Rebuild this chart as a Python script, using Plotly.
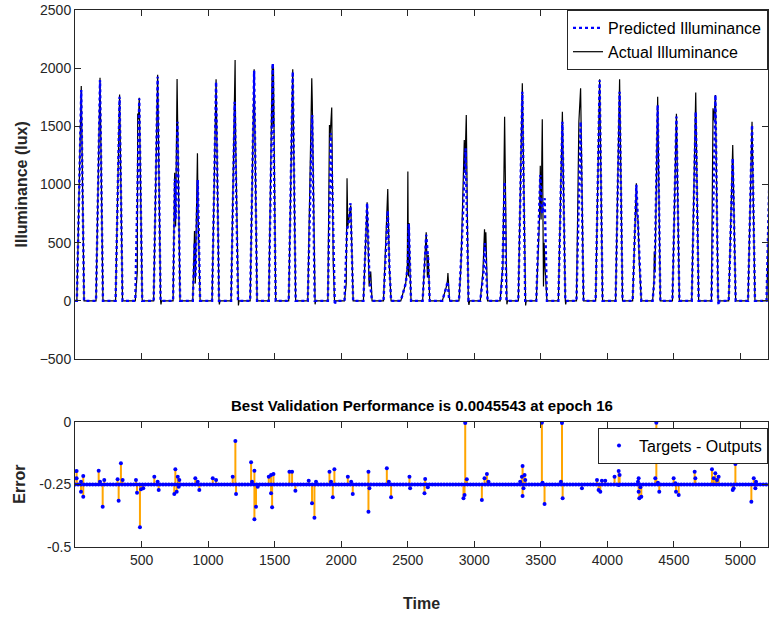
import plotly.graph_objects as go

# ---------------- data ----------------
# Illuminance: vertices (time index, lux) for each daily cycle
actual_days = [
    [(1, 0), (14, 0), (47, 1847), (68, 0)],
    [(158, 0), (188, 1918), (210, 0)],
    [(305, 0), (335, 1773), (357, 0)],
    [(453, 0), (468, 250), (471, 1610), (477, 1560), (483, 1745), (505, 0)],
    [(591, 0), (621, 1944), (643, 0), (646, -30), (650, 0)],
    [(737, 0), (749, 1100), (756, 640), (767, 1907), (772, 1540), (789, 0)],
    [(885, 0), (898, 600), (904, 150), (920, 1269), (925, 750), (940, 0)],
    [(1030, 0), (1060, 1904), (1082, 0), (1085, -30), (1089, 0)],
    [(1173, 0), (1198, 1720), (1203, 2070), (1207, 1380), (1225, 0), (1228, -40), (1232, 0)],
    [(1316, 0), (1346, 1990), (1368, 0)],
    [(1456, 0), (1482, 2020), (1487, 1500), (1491, 2010), (1508, 0)],
    [(1606, 0), (1636, 1990), (1658, 0)],
    [(1749, 0), (1779, 1913), (1783, 1700), (1801, 0), (1804, -30), (1808, 0)],
    [(1900, 0), (1912, 1512), (1916, 1400), (1929, 1661), (1940, 338), (1950, 0)],
    [(2025, 0), (2038, 150), (2044, 1054), (2050, 640), (2062, 720), (2072, 820), (2090, 0)],
    [(2167, 0), (2195, 848), (2210, 123), (2222, 252), (2232, 0)],
    [(2318, 0), (2350, 962), (2362, 295), (2375, 0)],
    [(2448, 0), (2485, 150), (2497, 300), (2501, 1111), (2505, 209), (2510, 670), (2516, 300), (2525, 0)],
    [(2612, 0), (2639, 590), (2648, 200), (2654, 395), (2665, 0)],
    [(2760, 0), (2790, 120), (2798, 170), (2802, 238), (2808, 60), (2815, 0)],
    [(2885, 0), (2900, 300), (2905, 517), (2925, 1383), (2929, 1100), (2940, 1598), (2955, 0), (2960, -35), (2965, 0)],
    [(3045, 0), (3065, 250), (3077, 616), (3082, 440), (3087, 590), (3100, 0)],
    [(3195, 0), (3205, 180), (3215, 300), (3228, 1583), (3240, 0), (3245, -30), (3250, 0)],
    [(3331, 0), (3361, 1870), (3383, 0), (3386, -40), (3390, 0)],
    [(3466, 0), (3490, 700), (3496, 1162), (3502, 700), (3511, 1561), (3520, 123), (3525, 500), (3531, 300), (3546, 0)],
    [(3632, 0), (3662, 1626), (3684, 0), (3687, -30), (3691, 0)],
    [(3768, 0), (3786, 1540), (3799, 1827), (3821, 0)],
    [(3912, 0), (3942, 1904), (3964, 0)],
    [(4062, 0), (4092, 1904), (4114, 0)],
    [(4190, 0), (4218, 1011), (4222, 750), (4230, 700), (4240, 331), (4255, 0)],
    [(4340, 0), (4350, 150), (4353, 424), (4358, 250), (4378, 1755), (4398, 0)],
    [(4489, 0), (4519, 1607), (4541, 0)],
    [(4634, 0), (4664, 1790), (4686, 0)],
    [(4782, 0), (4794, 1655), (4800, 1550), (4812, 1770), (4832, 0)],
    [(4912, 0), (4942, 1340), (4964, 0)],
    [(5057, 0), (5087, 1540), (5109, 0)],
    [(5198, 0), (5212, 820), (5231, 1650), (5253, 0)],
]

predicted_days = [
    [(1, 0), (14, 0), (47, 1813), (68, 0)],
    [(158, 0), (188, 1899), (210, 0)],
    [(305, 0), (335, 1755), (357, 0)],
    [(453, 0), (483, 1740), (505, 0)],
    [(591, 0), (621, 1927), (643, 0)],
    [(737, 0), (750, 1050), (756, 700), (770, 1540), (790, 0)],
    [(885, 0), (899, 500), (905, 200), (922, 1040), (940, 0)],
    [(1030, 0), (1060, 1884), (1082, 0)],
    [(1173, 0), (1200, 1712), (1225, 0)],
    [(1316, 0), (1346, 1978), (1368, 0)],
    [(1456, 0), (1486, 2042), (1508, 0)],
    [(1606, 0), (1636, 1970), (1658, 0)],
    [(1749, 0), (1782, 1598), (1801, 0)],
    [(1900, 0), (1922, 1441), (1935, 900), (1948, 0), (1952, -35), (1958, 0)],
    [(2025, 0), (2044, 620), (2055, 650), (2070, 839), (2090, 0)],
    [(2167, 0), (2195, 840), (2212, 200), (2232, 0)],
    [(2318, 0), (2350, 776), (2362, 300), (2375, 0)],
    [(2448, 0), (2485, 150), (2500, 300), (2508, 661), (2525, 0)],
    [(2612, 0), (2639, 567), (2654, 350), (2665, 0)],
    [(2760, 0), (2790, 120), (2800, 166), (2812, 0)],
    [(2885, 0), (2905, 450), (2935, 1312), (2957, 0)],
    [(3045, 0), (3070, 250), (3080, 496), (3100, 0)],
    [(3195, 0), (3210, 200), (3228, 1025), (3242, 0)],
    [(3331, 0), (3361, 1798), (3383, 0)],
    [(3466, 0), (3496, 1082), (3510, 750), (3529, 882), (3546, 0)],
    [(3632, 0), (3662, 1540), (3684, 0)],
    [(3768, 0), (3799, 1540), (3821, 0)],
    [(3912, 0), (3942, 1897), (3964, 0)],
    [(4062, 0), (4092, 1798), (4114, 0)],
    [(4190, 0), (4218, 997), (4228, 720), (4240, 300), (4255, 0)],
    [(4340, 0), (4355, 209), (4378, 1684), (4398, 0)],
    [(4489, 0), (4519, 1584), (4541, 0)],
    [(4634, 0), (4664, 1626), (4686, 0)],
    [(4782, 0), (4812, 1770), (4832, 0), (4837, -35), (4842, 0)],
    [(4912, 0), (4942, 1226), (4964, 0)],
    [(5057, 0), (5087, 1512), (5109, 0)],
    [(5196, 0), (5212, 800), (5231, 1700), (5253, 0)],
]

# Error (Targets - Outputs): baseline samples and deviating samples
err_baseline_value = -0.25
err_base_t = list(range(1, 5212, 22))

err_t = [12, 12, 45, 62, 62, 45, 178, 208, 188, 220, 345, 328, 320, 358, 458, 466,
         488, 496, 513, 596, 621, 629, 754, 746, 764, 779, 784, 772, 904, 922, 934,
         1035, 1060, 1185, 1205, 1210, 1323, 1348, 1348, 1360, 1330, 1373, 1456,
         1473, 1491, 1481, 1473, 1611, 1631, 1656, 1756, 1781, 1799, 1811, 1912,
         1937, 1949, 1924, 2050, 2075, 2087, 2205, 2205, 2212, 2343, 2375, 2358,
         2513, 2518,
         2631, 2626, 2651, 2919, 2932, 2944, 2927, 3057, 3077, 3095, 3107, 3345,
         3358, 3363, 3378, 3383, 3370, 3363, 3508, 3513, 3528, 3659, 3664, 3651,
         3809, 3922, 3934, 3947, 3959, 3984, 4054, 4085, 4092, 4085, 4230, 4235,
         4240, 4255, 4248, 4235, 4368, 4360, 4380, 4390, 4498, 4511, 4516, 4536,
         4656, 4661, 4786, 4811, 4799, 4824, 4836, 4962, 4942, 4949, 5082, 5100,
         5117, 5112]
err_v = [-0.196, -0.225, -0.239, -0.216, -0.299, -0.279, -0.195, -0.339, -0.239,
         -0.232, -0.165, -0.315, -0.229, -0.232, -0.232, -0.283, -0.421, -0.269,
         -0.265, -0.219, -0.239, -0.272, -0.189, -0.288, -0.279, -0.259, -0.232,
         -0.219, -0.225, -0.239, -0.272, -0.225, -0.232, -0.219, -0.076, -0.288,
         -0.161, -0.195, -0.389, -0.339, -0.239, -0.259, -0.219, -0.212, -0.208,
         -0.341, -0.285, -0.199, -0.199, -0.275, -0.235, -0.325, -0.383, -0.239,
         -0.199, -0.301, -0.189, -0.239, -0.219, -0.239, -0.288, -0.199, -0.359,
         -0.265, -0.185, -0.301, -0.239, -0.219, -0.265,
         -0.228, -0.285, -0.261, -0.305, -0.004, -0.229, -0.292, -0.312, -0.225,
         -0.208, -0.239, -0.239, -0.219, -0.176, -0.212, -0.232, -0.265, -0.296,
         -0.003, -0.243, -0.328, -0.004, -0.305, -0.239, -0.265, -0.232, -0.272,
         -0.279, -0.235, -0.235, -0.219, -0.196, -0.212, -0.252, -0.239, -0.279,
         -0.305, -0.299, -0.261, -0.225, -0.003, -0.225, -0.243, -0.279, -0.225,
         -0.245, -0.279, -0.292, -0.199, -0.225, -0.189, -0.205, -0.225, -0.232,
         -0.219, -0.168, -0.272, -0.265, -0.319, -0.225, -0.239, -0.265]

x_ticks = [500, 1000, 1500, 2000, 2500, 3000, 3500, 4000, 4500, 5000]
x_range = [0, 5207]
illum_ticks = [-500, 0, 500, 1000, 1500, 2000, 2500]
err_ticks = [-0.5, -0.25, 0]
err_ticktext = ["-0.5", "-0.25", "0"]

title_text = "Best Validation Performance is 0.0045543 at epoch 16"

# ---------------- build ----------------
def flatten(days):
    xs, ys = [], []
    for d in days:
        for t, v in d:
            xs.append(t)
            ys.append(v)
    return xs, ys

act_x, act_y = flatten(actual_days)
pred_x, pred_y = flatten(predicted_days)

stem_x, stem_y = [], []
for t, v in zip(err_t, err_v):
    stem_x += [t, t, None]
    stem_y += [err_baseline_value, v, None]

dots_x = err_base_t + err_t
dots_y = [err_baseline_value] * len(err_base_t) + err_v

FONT = "Liberation Sans, Arial, Helvetica, sans-serif"
AX = "#262626"

fig = go.Figure()
fig.add_trace(go.Scatter(x=act_x, y=act_y, mode="lines", name="Actual Illuminance",
                         line=dict(color="black", width=1.2), legendrank=2,
                         xaxis="x", yaxis="y", legend="legend"))
fig.add_trace(go.Scatter(x=pred_x, y=pred_y, mode="lines", name="Predicted Illuminance",
                         line=dict(color="#0000FF", width=2.4, dash="dot"), legendrank=1,
                         xaxis="x", yaxis="y", legend="legend"))
fig.add_trace(go.Scatter(x=stem_x, y=stem_y, mode="lines", showlegend=False,
                         line=dict(color="#FFA500", width=2),
                         xaxis="x2", yaxis="y2", hoverinfo="skip"))
fig.add_trace(go.Scatter(x=dots_x, y=dots_y, mode="markers", name="Targets - Outputs",
                         marker=dict(color="#0000FF", size=4),
                         xaxis="x2", yaxis="y2", legend="legend2"))

axis_common = dict(showline=True, linecolor=AX, linewidth=1, mirror="ticks",
                   ticks="inside", ticklen=6, tickcolor=AX, showgrid=False,
                   zeroline=False, tickfont=dict(family=FONT, size=14, color=AX))

fig.update_layout(
    width=769, height=617,
    margin=dict(l=75, r=1, t=10, b=70),
    paper_bgcolor="white", plot_bgcolor="white",
    font=dict(family=FONT, color=AX),
    xaxis=dict(domain=[0, 1], anchor="y", range=x_range, tickvals=x_ticks,
               showticklabels=False, **axis_common),
    yaxis=dict(domain=[0.3501, 1], anchor="x", range=[-500, 2500], tickvals=illum_ticks,
               **axis_common),
    xaxis2=dict(domain=[0, 1], anchor="y2", range=x_range, tickvals=x_ticks,
                **axis_common),
    yaxis2=dict(domain=[0, 0.2328], anchor="x2", range=[-0.5, 0], tickvals=err_ticks,
                ticktext=err_ticktext, **axis_common),
    legend=dict(x=1, xanchor="right", y=1, yanchor="top", bgcolor="white",
                bordercolor=AX, borderwidth=1, font=dict(family=FONT, size=16, color="black"),
                tracegroupgap=0, itemwidth=30),
    legend2=dict(x=1, xanchor="right", y=0.2222, yanchor="top", bgcolor="white",
                 bordercolor=AX, borderwidth=1, font=dict(family=FONT, size=16, color="black")),
    showlegend=True,
    annotations=[
        dict(text="<b>Illuminance (lux)</b>", xref="paper", yref="paper",
             x=-0.0765, y=0.675, xanchor="center", yanchor="middle", textangle=-90,
             showarrow=False, font=dict(family=FONT, size=16, color=AX)),
        dict(text="<b>Error</b>", xref="paper", yref="paper",
             x=-0.0805, y=0.1164, xanchor="center", yanchor="middle", textangle=-90,
             showarrow=False, font=dict(family=FONT, size=16, color=AX)),
        dict(text="<b>Time</b>", xref="paper", yref="paper",
             x=0.5, y=-0.1043, xanchor="center", yanchor="middle",
             showarrow=False, font=dict(family=FONT, size=16, color=AX)),
        dict(text="<b>" + title_text + "</b>", xref="paper", yref="paper",
             x=0.5, y=0.2626, xanchor="center", yanchor="middle",
             showarrow=False, font=dict(family=FONT, size=15, color="black")),
    ],
)

fig.write_html("out.html")
